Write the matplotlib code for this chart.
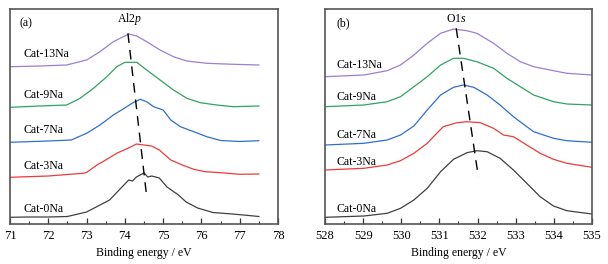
import matplotlib
matplotlib.use("Agg")
import matplotlib.pyplot as plt
from matplotlib.ticker import MultipleLocator

plt.rcParams['font.family'] = ['Liberation Serif', 'DejaVu Serif']
plt.rcParams['mathtext.fontset'] = 'custom'
plt.rcParams['mathtext.rm'] = 'Liberation Serif'
plt.rcParams['mathtext.it'] = 'Liberation Serif:italic'

# ---- Panel (a): Al2p ----
al_labels = ["Cat-0Na", "Cat-3Na", "Cat-7Na", "Cat-9Na", "Cat-13Na"]
al_x_0 = [71, 71.5, 72, 72.5, 73, 73.3, 73.6, 73.8, 74.1, 74.2, 74.3, 74.5, 74.6, 74.7, 74.9, 75.1, 75.4, 75.6, 75.9, 76.3, 76.8, 77.1, 77.5]
al_y_0 = [4.7, 5, 5, 5.5, 10, 16, 22, 30, 42, 41, 45, 49, 45, 46, 44, 35, 27, 20, 14, 9.5, 8, 7, 5.5]
al_x_3 = [71, 72, 72.9, 73.0, 73.27, 73.5, 73.8, 74.1, 74.3, 74.5, 74.7, 74.9, 75.2, 75.5, 75.8, 76.1, 76.5, 77.0, 77.5]
al_y_3 = [44.7, 46, 48.7, 49.5, 57, 62, 69, 74, 78, 77, 76, 72, 62, 57, 52.7, 50.3, 49.3, 47.7, 48]
al_x_7 = [71, 72, 72.6, 73.0, 73.35, 73.7, 74.05, 74.2, 74.4, 74.57, 74.75, 75.0, 75.2, 75.45, 75.8, 76.14, 76.5, 77.0, 77.5]
al_y_7 = [79.7, 81, 82, 88.7, 97, 107, 115.3, 119, 122.7, 120.3, 115.3, 112, 102, 95.3, 90.3, 85.3, 81.5, 80.5, 81.3]
al_x_9 = [71, 71.78, 72.48, 72.83, 73.18, 73.53, 73.79, 74.0, 74.31, 74.57, 74.92, 75.27, 75.62, 75.97, 76.4, 76.84, 77.5]
al_y_9 = [114.7, 116, 117, 123.7, 133.7, 145.3, 155.3, 159.7, 159.7, 152, 142, 132, 123.7, 119.3, 117, 115.3, 116]
al_x_13 = [71, 71.78, 72.48, 73.0, 73.35, 73.7, 74.1, 74.31, 74.57, 74.92, 75.27, 75.62, 76.14, 76.84, 77.5]
al_y_13 = [155.3, 156, 157, 162, 170.3, 180.3, 188, 186, 180.3, 172, 165.3, 161, 158.7, 157.7, 157]
al_guide_x = [74.08, 74.57]
al_guide_y = [188.7, 25.3]

# ---- Panel (b): O1s ----
o_x_0 = [528, 529.02, 529.63, 529.98, 530.33, 530.68, 531.03, 531.37, 531.72, 531.98, 532.25, 532.59, 532.94, 533.29, 533.64, 533.99, 534.34, 535]
o_y_0 = [4.7, 6, 8.7, 13.7, 22, 33.7, 50.3, 62.7, 69.3, 71.3, 70.3, 63.7, 52, 38.7, 25.3, 16, 11.3, 8]
o_x_3 = [528, 529.02, 529.63, 529.98, 530.33, 530.68, 530.76, 531.1, 531.46, 531.72, 532.07, 532.42, 532.68, 532.94, 533.29, 533.64, 533.99, 534.34, 535]
o_y_3 = [52, 53.7, 57, 61.3, 68.7, 78.7, 82, 95.3, 99.3, 100.3, 99.3, 93.7, 87, 85.3, 77, 68.7, 62.7, 58.7, 54.7]
o_x_7 = [528, 529.02, 529.63, 529.98, 530.33, 530.68, 531.03, 531.37, 531.63, 531.9, 532.25, 532.59, 532.94, 533.29, 533.47, 533.99, 534.34, 535]
o_y_7 = [77, 78.7, 82, 87, 96, 112, 127, 134.7, 137, 134.7, 127, 117, 105.3, 95.3, 90.3, 83.7, 81.3, 79.7]
o_x_9 = [528, 529.02, 529.63, 529.98, 530.33, 530.68, 531.03, 531.37, 531.63, 531.98, 532.42, 532.77, 533.12, 533.47, 533.99, 534.34, 535]
o_y_9 = [115.3, 117, 120.3, 125.3, 135.3, 145.3, 157, 163.7, 163.7, 160.3, 153.7, 143.7, 135.3, 127, 120.3, 118, 117]
o_x_13 = [528, 529.02, 529.63, 529.98, 530.33, 530.68, 531.03, 531.37, 531.72, 531.98, 532.42, 532.77, 533.12, 533.47, 533.99, 534.34, 535]
o_y_13 = [145.3, 147, 151.3, 157, 167, 178.7, 188.7, 193, 191.3, 188.7, 178.7, 168.7, 160.3, 155.3, 151.3, 148.7, 147]
o_guide_x = [531.44, 532.02]
o_guide_y = [193.7, 45.3]

colors = ["#404040", "#ee3a3a", "#2f6fcf", "#2fa366", "#9b7fd2"]

fig = plt.figure(figsize=(6.08, 2.64), dpi=100)
axA = fig.add_axes([10/608, 40/264, 268/608, 215/264])
axB = fig.add_axes([325/608, 40/264, 267/608, 215/264])

def style(ax, xlim, label_pos, labels, tag, tagx, title, titlex, curves, guide):
    for (xs, ys), c in zip(curves, colors):
        ax.plot(xs, ys, color=c, lw=0.9)
    ax.plot(guide[0], guide[1], color="black", lw=1.0, ls=(0, (7, 5)))
    ax.set_xlim(*xlim)
    ax.set_ylim(-2, 213)
    ax.set_yticks([])
    ax.xaxis.set_major_locator(MultipleLocator(1))
    ax.xaxis.set_minor_locator(MultipleLocator(0.5))
    ax.tick_params(axis='x', which='major', direction='in', length=4, width=0.9, labelsize=9, color="#333333", pad=4)
    ax.tick_params(axis='x', which='minor', direction='in', length=2.5, width=0.8, color="#333333")
    ax.tick_params(axis='x', top=False)
    for s in ax.spines.values():
        s.set_color("#555555")
        s.set_linewidth(1.2)
    ax.set_xlabel("Binding energy / eV", fontsize=8.5, labelpad=4)
    for (lx, ly), t in zip(label_pos, labels):
        ax.text(lx, ly, t, fontsize=8.5, ha='left', va='center')
    ax.text(tagx, 199, tag, fontsize=8.5, ha='left', va='center')
    ax.text(titlex, 203, title, fontsize=8.5, ha='center', va='center')

style(axA, (71, 78),
      [(71.36, 13), (71.36, 56), (71.36, 92), (71.36, 127), (71.36, 168)],
      al_labels, "(a)", 71.26, r"Al2$\it{p}$", 74.13,
      [(al_x_0, al_y_0), (al_x_3, al_y_3), (al_x_7, al_y_7), (al_x_9, al_y_9), (al_x_13, al_y_13)],
      (al_guide_x, al_guide_y))
style(axB, (528, 535),
      [(528.3, 13), (528.3, 60), (528.3, 87), (528.3, 125), (528.3, 157)],
      al_labels, "(b)", 528.3, r"O1$\it{s}$", 531.45,
      [(o_x_0, o_y_0), (o_x_3, o_y_3), (o_x_7, o_y_7), (o_x_9, o_y_9), (o_x_13, o_y_13)],
      (o_guide_x, o_guide_y))

fig.savefig("out.png", dpi=100)
